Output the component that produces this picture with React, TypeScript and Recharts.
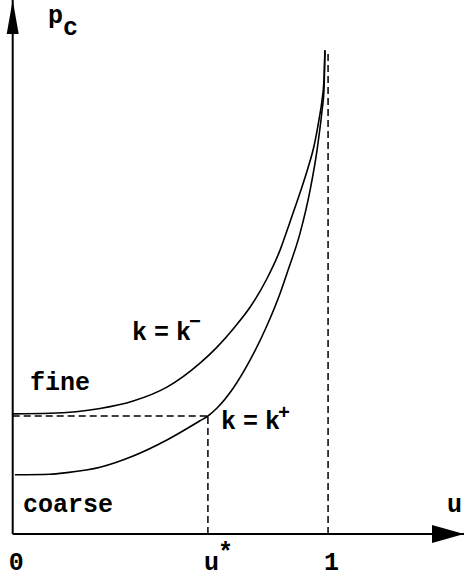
import React from "react";
import {
  LineChart,
  Line,
  XAxis,
  YAxis,
  ReferenceLine,
  ReferenceDot,
} from "recharts";

// k = k- curve (upper)
const kMinusU = [0, 0.118, 0.277, 0.382, 0.489, 0.594, 0.648, 0.699, 0.753, 0.806, 0.848, 0.879, 0.911, 0.936, 0.956, 0.971, 0.981, 0.987, 0.99];
const kMinusP = [2.25, 2.26, 2.35, 2.49, 2.75, 3.2, 3.5, 3.84, 4.25, 4.78, 5.32, 5.84, 6.39, 6.85, 7.28, 7.75, 8.13, 8.5, 9.06];

// k = k+ curve (lower)
const kPlusU = [0.007, 0.118, 0.172, 0.277, 0.382, 0.489, 0.594, 0.619, 0.648, 0.699, 0.753, 0.806, 0.848, 0.873, 0.911, 0.943, 0.965, 0.981, 0.987, 0.99];
const kPlusP = [1.11, 1.12, 1.15, 1.25, 1.46, 1.76, 2.12, 2.21, 2.36, 2.73, 3.26, 3.9, 4.51, 4.94, 5.63, 6.44, 7.19, 7.94, 8.31, 9.06];

const uStar = 0.619;
const pStar = 2.21;
const pAsymptote = 9.0;
const xTicks = [0, uStar, 1];
const xTickLabels = ["0", "u*", "1"];

const FONT = "'Liberation Mono', 'Courier New', monospace";

const kMinus = kMinusU.map((u, i) => ({ u, p: kMinusP[i] }));
const kPlus = kPlusU.map((u, i) => ({ u, p: kPlusP[i] }));

const TickLabel = (props: any) => {
  const { x, y, index } = props;
  const label: string = xTickLabels[index] ?? "";
  const star = label.endsWith("*");
  return (
    <text x={x - 4} y={y + 28} fontFamily={FONT} fontWeight="bold" fontSize={25} fill="#000">
      {star ? label.slice(0, -1) : label}
      {star && <tspan dx={-1} dy={-10}>*</tspan>}
    </text>
  );
};

const upArrow = (props: any) => {
  const { cx, cy } = props;
  return <polygon points={`${cx},${cy} ${cx - 6},${cy + 34} ${cx + 6},${cy + 34}`} fill="#000" />;
};

const rightArrow = (props: any) => {
  const { cx, cy } = props;
  return <polygon points={`${cx},${cy} ${cx - 32},${cy - 9} ${cx - 32},${cy + 9}`} fill="#000" />;
};

const txt = { fontFamily: FONT, fontWeight: "bold" as const, fontSize: 25, fill: "#000" };

export default function App() {
  return (
    <div style={{ position: "absolute", left: 0, top: 0, background: "#fff" }}>
      <LineChart
        width={464}
        height={582}
        margin={{ top: 0, right: 0, bottom: 0, left: 12.7 }}
      >
        <XAxis
          dataKey="u"
          type="number"
          domain={[0, 1.431]}
          ticks={xTicks}
          interval={0}
          tickLine={false}
          axisLine={{ stroke: "#000", strokeWidth: 2 }}
          height={48}
          tick={<TickLabel />}
          allowDataOverflow
        />
        <YAxis type="number" domain={[0, 10]} hide allowDataOverflow />
        <ReferenceLine x={0} stroke="#000" strokeWidth={2} />
        <ReferenceLine
          segment={[{ x: 1, y: 0 }, { x: 1, y: pAsymptote }]}
          stroke="#000"
          strokeWidth={1.5}
          strokeDasharray="7 4"
        />
        <ReferenceLine
          segment={[{ x: uStar, y: 0 }, { x: uStar, y: pStar }]}
          stroke="#000"
          strokeWidth={1.5}
          strokeDasharray="7 4"
        />
        <ReferenceLine
          segment={[{ x: 0, y: pStar }, { x: uStar, y: pStar }]}
          stroke="#000"
          strokeWidth={1.5}
          strokeDasharray="7 4"
        />
        <Line
          data={kMinus}
          dataKey="p"
          type="monotone"
          stroke="#000"
          strokeWidth={1.6}
          dot={false}
          isAnimationActive={false}
        />
        <Line
          data={kPlus}
          dataKey="p"
          type="monotone"
          stroke="#000"
          strokeWidth={1.6}
          dot={false}
          isAnimationActive={false}
        />
        <ReferenceDot x={0} y={10} r={0} ifOverflow="visible" shape={upArrow} />
        <ReferenceDot x={1.431} y={0} r={0} ifOverflow="visible" shape={rightArrow} />
        <text x={48} y={23} {...txt}>
          p<tspan dy={12}>c</tspan>
        </text>
        <text x={30} y={390} {...txt}>fine</text>
        <text x={23} y={512} {...txt}>coarse</text>
        <text x={447} y={512} {...txt}>u</text>
        <text x={132} y={340} {...txt} letterSpacing={-4}>
          k = k<tspan dx={2} dy={-12} fontSize={20}>−</tspan>
        </text>
        <text x={221} y={429} {...txt} letterSpacing={-4}>
          k = k<tspan dx={2} dy={-10} fontSize={20}>+</tspan>
        </text>
      </LineChart>
    </div>
  );
}
